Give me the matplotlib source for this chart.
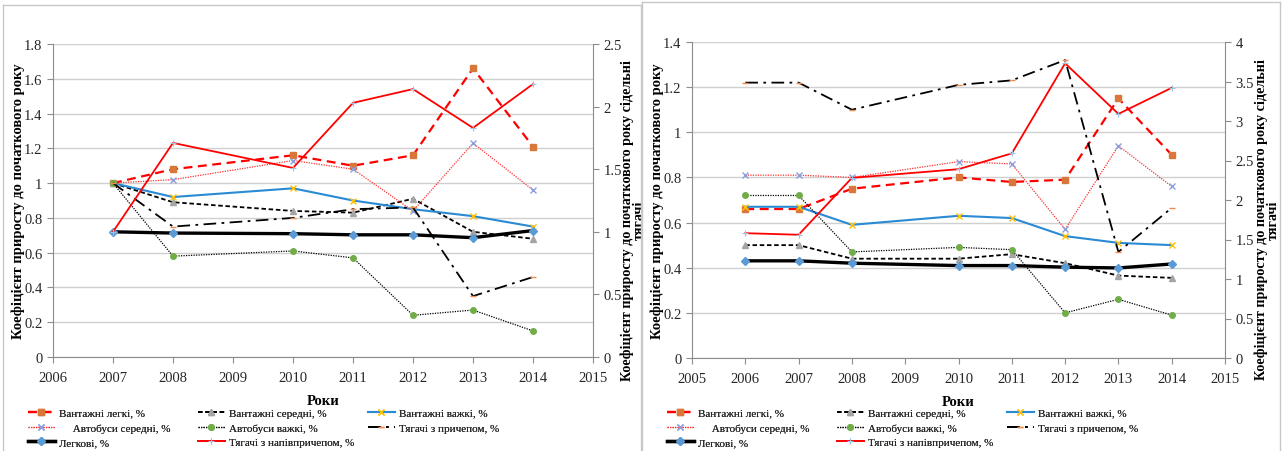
import matplotlib
matplotlib.use("Agg")
import matplotlib.pyplot as plt
from matplotlib.lines import Line2D

plt.rcParams['font.family'] = ['Liberation Serif', 'DejaVu Serif']
plt.rcParams['font.serif'] = ['Liberation Serif', 'DejaVu Serif']

# ---- data: growth coefficients relative to the base year ----
labels = ["Вантажні легкі, %", "Вантажні середні, %", "Вантажні важкі, %",
          "     Автобуси середні, %", "Автобуси важкі, %", "Тягачі з причепом, %",
          "Легкові, %", "Тягачі з напівпричепом, %"]

years_a = [2007, 2008, 2010, 2011, 2012, 2013, 2014]
light_a = [1.0, 1.08, 1.16, 1.10, 1.16, 1.66, 1.21]
medium_a = [1.0, 0.89, 0.84, 0.83, 0.91, 0.72, 0.68]
heavy_a = [1.0, 0.92, 0.97, 0.90, 0.85, 0.81, 0.75]
bus_mid_a = [1.0, 1.02, 1.13, 1.08, 0.84, 1.23, 0.96]
bus_heavy_a = [1.0, 0.58, 0.61, 0.57, 0.24, 0.27, 0.15]
trailer_a = [1.0, 0.75, 0.80, 0.85, 0.86, 0.35, 0.46]
cars_a = [1.0, 0.99, 0.985, 0.976, 0.976, 0.953, 1.01]           # secondary axis
semi_a = [1.0, 1.71, 1.51, 2.03, 2.14, 1.83, 2.18]               # secondary axis

years_b = [2006, 2007, 2008, 2010, 2011, 2012, 2013, 2014]
light_b = [0.66, 0.66, 0.75, 0.80, 0.78, 0.79, 1.15, 0.90]
medium_b = [0.50, 0.50, 0.44, 0.44, 0.46, 0.42, 0.365, 0.355]
heavy_b = [0.67, 0.67, 0.59, 0.63, 0.62, 0.54, 0.51, 0.50]
bus_mid_b = [0.81, 0.81, 0.80, 0.87, 0.86, 0.57, 0.94, 0.76]
bus_heavy_b = [0.72, 0.72, 0.47, 0.49, 0.48, 0.20, 0.26, 0.19]
trailer_b = [1.22, 1.22, 1.10, 1.21, 1.23, 1.32, 0.47, 0.665]
cars_b = [1.23, 1.23, 1.20, 1.17, 1.17, 1.15, 1.14, 1.19]        # secondary axis
semi_b = [1.58, 1.56, 2.28, 2.39, 2.59, 3.73, 3.09, 3.42]        # secondary axis

# line / marker styles for each series, in legend order
styles = [
    dict(color='#FF0000', lw=1.6, dashes=(4, 2.5), marker='s', ms=4.5, mfc='#D9773A', mec='#D9773A'),
    dict(color='#000000', lw=1.3, dashes=(2.5, 1.5), marker='^', ms=4, mfc='#A5A5A5', mec='#A5A5A5'),
    dict(color='#2A8AD4', lw=1.5, ls='-', marker='x', ms=4.5, mfc='#FFC000', mec='#FFC000', mew=1),
    dict(color='#FF3030', lw=0.9, dashes=(1, 1), marker='x', ms=4.5, mfc='#8E9FE0', mec='#8E9FE0', mew=1),
    dict(color='#000000', lw=0.9, dashes=(1, 1), marker='o', ms=4, mfc='#70AD47', mec='#70AD47'),
    dict(color='#000000', lw=1.3, dashes=(7, 3, 1.5, 3), marker='_', ms=4, mfc='#F08A50', mec='#F08A50'),
    dict(color='#000000', lw=2.4, ls='-', marker='D', ms=4.5, mfc='#5B9BD5', mec='#5B9BD5'),
    dict(color='#FF0000', lw=1.3, ls='-', marker='+', ms=4.5, mfc='#9DC3E6', mec='#9DC3E6', mew=0.8),
]

grid_c = '#D0D0D0'
axis_c = '#8C8C8C'
txt_c = '#262626'
serif = ['Liberation Serif', 'DejaVu Serif']

fig = plt.figure(figsize=(12.82, 4.52), dpi=100)
W, H = 1282.0, 452.0


def px_box(x0, x1, ytop, ybot):
    return [x0 / W, 1 - ybot / H, (x1 - x0) / W, (ybot - ytop) / H]


def draw_panel(box, xlim, ymax, ystep, y2max, years, primary, secondary,
               ylabel_x, y2label_x, leg_x):
    ax = fig.add_axes(box)
    ax2 = ax.twinx()
    ax.set_xlim(*xlim)
    ax.set_ylim(0, ymax)
    ax2.set_ylim(0, y2max)
    xt = list(range(xlim[0], xlim[1] + 1))
    ax.set_xticks(xt)
    ax.set_xticklabels([str(v) for v in xt], fontfamily=serif)
    n = int(round(ymax / ystep))
    yt = [round(i * ystep, 1) for i in range(n + 1)]
    ax.set_yticks(yt)
    ax.set_yticklabels(['%g' % v for v in yt], fontfamily=serif)
    y2t = [i * 0.5 for i in range(int(y2max / 0.5) + 1)]
    ax2.set_yticks(y2t)
    ax2.set_yticklabels(['%g' % v for v in y2t], fontfamily=serif)
    ax.grid(axis='y', color=grid_c, lw=1)
    ax.set_axisbelow(True)
    for a in (ax, ax2):
        for s in a.spines.values():
            s.set_visible(False)
        a.tick_params(labelsize=10.5, colors=axis_c, labelcolor=txt_c, length=4, width=0.8)
    ax.spines['bottom'].set_visible(True)
    ax.spines['bottom'].set_color(axis_c)
    ax.spines['left'].set_visible(True)
    ax.spines['left'].set_color(axis_c)
    ax2.spines['right'].set_visible(True)
    ax2.spines['right'].set_color(axis_c)
    ax.tick_params(axis='x', pad=6)

    handles = []
    for vals, st in zip(primary, styles[:6]):
        h, = ax.plot(years, vals, **st)
        handles.append(h)
    for vals, st in zip(secondary, styles[6:]):
        h, = ax2.plot(years, vals, **st)
        handles.append(h)

    ax.text(ylabel_x, 0.5, "Коефіцієнт приросту до початкового року", rotation=90,
            transform=ax.transAxes, ha='center', va='center', fontsize=10.5,
            fontweight='bold', color='#000000')
    ax2.text(y2label_x, 0.44, "Коефіцієнт приросту до початкового року сідельні\nтягачі",
             rotation=90, transform=ax2.transAxes, ha='center', va='center',
             multialignment='center', fontsize=10.2, fontweight='bold',
             linespacing=0.9, color='#000000')
    ax.text(0.5, -0.118, "Роки", transform=ax.transAxes, ha='center', va='top',
            fontsize=10.5, fontweight='bold', color='#000000')

    # three legend columns laid out like the spreadsheet legend
    for c in range(3):
        idx = [i for i in range(c, 8, 3)]
        leg = fig.legend([handles[i] for i in idx], [labels[i] for i in idx],
                         loc='upper left', bbox_to_anchor=((leg_x + 170 * c) / W, 1 - 409 / H),
                         frameon=False, fontsize=8, handlelength=2.4, handletextpad=0.35,
                         labelspacing=0.45, borderpad=0, borderaxespad=0,
                         labelcolor=txt_c, numpoints=1)
        fig.add_artist(leg)
    return ax, ax2


draw_panel(px_box(53, 593, 45, 358), (2006, 2015), 1.8, 0.2, 2.5, years_a,
           [light_a, medium_a, heavy_a, bus_mid_a, bus_heavy_a, trailer_a],
           [cars_a, semi_a], -0.065, 1.075, 28)

draw_panel(px_box(692, 1225, 43, 359), (2005, 2015), 1.4, 0.2, 4.0, years_b,
           [light_b, medium_b, heavy_b, bus_mid_b, bus_heavy_b, trailer_b],
           [cars_b, semi_b], -0.066, 1.079, 667)

# outer frames of the two chart areas
frame_c = '#C8C8C8'
for x0, x1, yt in ((3, 641, 6), (642, 1280, 3)):
    fig.add_artist(Line2D([x0 / W, x0 / W], [0, 1 - yt / H], color=frame_c, lw=1))
    fig.add_artist(Line2D([x1 / W, x1 / W], [0, 1 - yt / H], color=frame_c, lw=1))
    fig.add_artist(Line2D([x0 / W, x1 / W], [1 - yt / H, 1 - yt / H], color=frame_c, lw=1))

fig.savefig("out.png", dpi=100)
